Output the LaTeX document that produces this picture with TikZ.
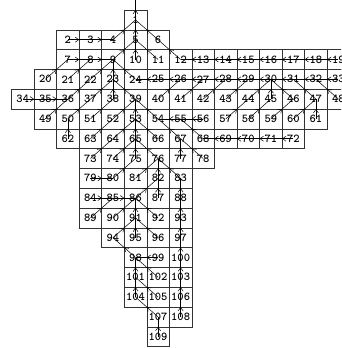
\documentclass[tikz,border=0pt]{standalone}
\usetikzlibrary{arrows.meta,decorations.markings}

\begin{document}
\begin{tikzpicture}[x=1pt, y=-1pt,
    font=\ttfamily\bfseries\fontsize{12}{12}\selectfont,
    cell/.style={draw=black!80, line width=0.5pt, minimum width=22.55pt,
      minimum height=19.8pt, inner sep=0pt, outer sep=0pt},
    arr/.style={draw, line width=0.5pt, postaction={decorate},
      decoration={markings, mark=at position 0.5 with
        {\arrow{Straight Barb[length=3.5pt,width=5pt]}}}},
  ]
  \useasboundingbox (0,0) rectangle (341,349);
  \clip (0,0) rectangle (341,349);
  % cells, row by row: row/first column/first number/last number
  \foreach \r/\c/\a/\b in {0/5/1/1, 1/2/2/6, 2/2/7/19, 3/1/20/33, 4/0/34/48,
      5/1/49/61, 6/2/62/72, 7/3/73/78, 8/3/79/83, 9/3/84/88, 10/3/89/93,
      11/4/94/97, 12/5/98/100, 13/5/101/103, 14/5/104/106, 15/6/107/108,
      16/6/109/109}
    \foreach \n in {\a,...,\b}
      \node[cell] (n\n) at ({11.5+22.55*(\c+\n-\a+0.5)}, {10+19.8*(\r+0.5)}) {\n};
  % outlet
  \coordinate (out) at (n1 |- 0,0);
  \draw[arr] (n1.center) -- (out);
  % each cell to its downstream neighbour
  \foreach \s/\t in {2/3, 3/4, 4/1, 5/1, 6/1,
      7/8, 8/9, 9/5, 10/5, 11/5, 12/6, 13/12, 14/13, 15/14, 16/15, 17/16,
      18/17, 19/18,
      20/7, 21/8, 22/9, 23/9, 24/9, 25/24, 26/25, 27/26, 28/27, 29/28,
      30/29, 31/30, 32/31, 33/32,
      34/35, 35/36, 36/22, 37/23, 38/23, 39/23, 40/26, 41/27, 42/28, 43/29,
      44/30, 45/30, 46/30, 47/31, 48/32,
      49/36, 50/37, 51/38, 52/39, 53/39, 54/39, 55/54, 56/55, 57/44, 58/45,
      59/46, 60/47, 61/47,
      62/50, 63/52, 64/53, 65/53, 66/53, 67/54, 68/55, 69/68, 70/69, 71/70,
      72/71,
      73/64, 74/65, 75/65, 76/65, 77/67, 78/67,
      79/80, 80/75, 81/76, 82/76, 83/76,
      84/85, 85/86, 86/82, 87/82, 88/83,
      89/85, 90/86, 91/86, 92/86, 93/88,
      94/91, 95/91, 96/91, 97/93,
      98/94, 99/98, 100/97,
      101/98, 102/98, 103/100,
      104/101, 105/101, 106/103,
      107/104, 108/106,
      109/107}
    \draw[arr] (n\s.center) -- (n\t.center);
\end{tikzpicture}
\end{document}
